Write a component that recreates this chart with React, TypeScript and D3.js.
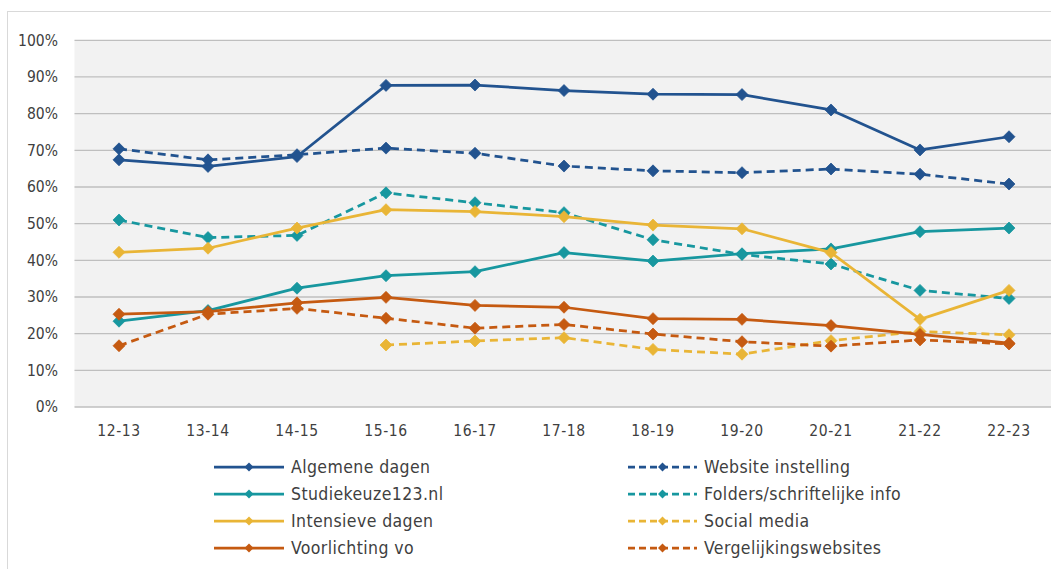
import React from "react";
import * as d3 from "d3";

const categories = ["12-13", "13-14", "14-15", "15-16", "16-17", "17-18", "18-19", "19-20", "20-21", "21-22", "22-23"];
const yTicks = [0, 10, 20, 30, 40, 50, 60, 70, 80, 90, 100];

const algemeneDagen = [67.4, 65.6, 68.3, 87.7, 87.8, 86.3, 85.3, 85.2, 81.0, 70.1, 73.7];
const websiteInstelling = [70.4, 67.4, 68.8, 70.6, 69.2, 65.7, 64.4, 63.9, 64.9, 63.5, 60.8];
const studiekeuze = [23.4, 26.3, 32.4, 35.8, 36.9, 42.1, 39.8, 41.8, 43.1, 47.8, 48.8];
const folders = [51.0, 46.2, 46.8, 58.4, 55.7, 53.0, 45.6, 41.6, 39.0, 31.8, 29.6];
const intensieveDagen = [42.2, 43.3, 48.8, 53.8, 53.3, 51.9, 49.6, 48.6, 42.1, 23.9, 31.8];
const socialMedia = [null, null, null, 16.9, 18.0, 18.9, 15.7, 14.4, 18.1, 20.6, 19.7];
const voorlichtingVo = [25.3, 26.0, 28.4, 29.9, 27.7, 27.2, 24.1, 23.9, 22.2, 19.8, 17.4];
const vergelijkingswebsites = [16.7, 25.3, 26.9, 24.2, 21.5, 22.5, 19.9, 17.8, 16.6, 18.3, 17.2];

const BLUE = "#22538f";
const TEAL = "#17979f";
const YELLOW = "#e9b536";
const ORANGE = "#c55a11";

type Series = { name: string; values: (number | null)[]; color: string; dashed: boolean };

const series: Series[] = [
  { name: "Algemene dagen", values: algemeneDagen, color: BLUE, dashed: false },
  { name: "Website instelling", values: websiteInstelling, color: BLUE, dashed: true },
  { name: "Studiekeuze123.nl", values: studiekeuze, color: TEAL, dashed: false },
  { name: "Folders/schriftelijke info", values: folders, color: TEAL, dashed: true },
  { name: "Intensieve dagen", values: intensieveDagen, color: YELLOW, dashed: false },
  { name: "Social media", values: socialMedia, color: YELLOW, dashed: true },
  { name: "Voorlichting vo", values: voorlichtingVo, color: ORANGE, dashed: false },
  { name: "Vergelijkingswebsites", values: vergelijkingswebsites, color: ORANGE, dashed: true },
];

const FONT = "'DejaVu Sans Condensed', 'DejaVu Sans', sans-serif";
const TEXT = "#404040";

function diamond(s: number) {
  return `M0,${-s}L${s},0L0,${s}L${-s},0Z`;
}

export default function App() {
  const W = 1051;
  const H = 569;
  const plotLeft = 74.5;
  const plotRight = 1053.5;
  const plotTop = 40.3;
  const plotBottom = 407;

  const x = d3.scalePoint<string>().domain(categories).range([plotLeft, plotRight]).padding(0.5);
  const y = d3.scaleLinear().domain([0, 100]).range([plotBottom, plotTop]);

  const line = d3
    .line<number | null>()
    .defined((d) => d !== null)
    .x((_, i) => x(categories[i]) as number)
    .y((d) => y(d as number));

  const legendRows = [467, 494, 521, 548];
  const legendCols = [
    { lineStart: 214, lineEnd: 284, text: 291 },
    { lineStart: 628, lineEnd: 697, text: 704 },
  ];

  return (
    <div style={{ position: "absolute", left: 0, top: 0 }}>
      <svg width={W} height={H} style={{ display: "block", background: "#ffffff" }}>
        <rect x={7.5} y={11.5} width={1100} height={600} fill="#ffffff" stroke="#d9d9d9" strokeWidth={1} />
        <rect x={plotLeft} y={plotTop} width={plotRight - plotLeft} height={plotBottom - plotTop} fill="#f2f2f2" />
        {yTicks.map((t) => (
          <g key={t}>
            <line x1={plotLeft} x2={plotRight} y1={y(t)} y2={y(t)} stroke="#bfbfbf" strokeWidth={1.3} />
            <text
              x={58}
              y={y(t)}
              dy="0.35em"
              textAnchor="end"
              fontFamily={FONT}
              fontSize={15.5}
              fill={TEXT}
            >
              {t}%
            </text>
          </g>
        ))}
        {categories.map((c) => (
          <text
            key={c}
            x={x(c)}
            y={431}
            dy="0.35em"
            textAnchor="middle"
            fontFamily={FONT}
            fontSize={15.5}
            fill={TEXT}
            letterSpacing={0.6}
          >
            {c}
          </text>
        ))}
        {series.map((s) => (
          <g key={s.name}>
            <path
              d={line(s.values) || ""}
              fill="none"
              stroke={s.color}
              strokeWidth={2.75}
              strokeDasharray={s.dashed ? "8,5" : undefined}
              strokeLinejoin="round"
            />
            {s.values.map((v, i) =>
              v === null ? null : (
                <path
                  key={i}
                  d={diamond(6)}
                  transform={`translate(${x(categories[i])},${y(v)})`}
                  fill={s.color}
                  stroke={s.color}
                  strokeWidth={0.75}
                />
              )
            )}
          </g>
        ))}
        {series.map((s, i) => {
          const col = legendCols[i % 2];
          const row = legendRows[Math.floor(i / 2)];
          const mid = (col.lineStart + col.lineEnd) / 2;
          return (
            <g key={"lg" + s.name}>
              <line
                x1={col.lineStart}
                x2={col.lineEnd}
                y1={row}
                y2={row}
                stroke={s.color}
                strokeWidth={2.75}
                strokeDasharray={s.dashed ? "7,4" : undefined}
              />
              <path d={diamond(4.5)} transform={`translate(${mid},${row})`} fill={s.color} />
              <text
                x={col.text}
                y={row}
                dy="0.35em"
                fontFamily={FONT}
                fontSize={17.5}
                letterSpacing={0.4}
                fill={TEXT}
              >
                {s.name}
              </text>
            </g>
          );
        })}
      </svg>
    </div>
  );
}
